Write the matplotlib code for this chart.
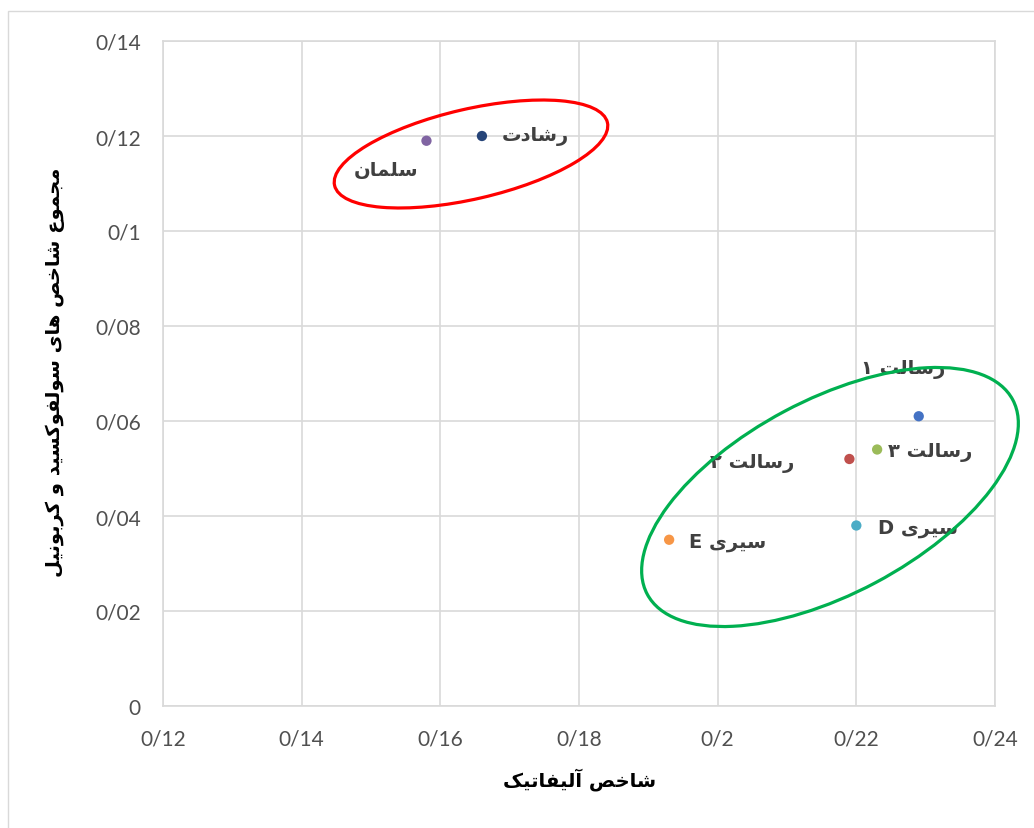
import matplotlib
matplotlib.use("Agg")
import matplotlib.pyplot as plt
from matplotlib.patches import Ellipse, Rectangle

# داده ها
names = ["رشادت", "سلمان", "رسالت ۱", "رسالت ۲", "رسالت ۳", "سیری D", "سیری E"]
x_vals = [0.166, 0.158, 0.229, 0.219, 0.223, 0.220, 0.193]
y_vals = [0.120, 0.119, 0.061, 0.052, 0.054, 0.038, 0.035]
colors = ["#264478", "#8064A2", "#4472C4", "#C0504D", "#9BBB59", "#4BACC6", "#F79646"]
x_ticks = [0.12, 0.14, 0.16, 0.18, 0.20, 0.22, 0.24]
x_tick_labels = ["0/12", "0/14", "0/16", "0/18", "0/2", "0/22", "0/24"]
y_ticks = [0, 0.02, 0.04, 0.06, 0.08, 0.10, 0.12, 0.14]
y_tick_labels = ["0", "0/02", "0/04", "0/06", "0/08", "0/1", "0/12", "0/14"]
x_title = "شاخص آلیفاتیک"
y_title = "مجموع شاخص های سولفوکسید و کربونیل"

# label offsets (pixels) from each point
label_off = [(53, 0), (-40, -29), (-16, 48), (-97, -4), (53, -2), (62, -2), (58, -2)]

# contextual forms: isolated, final, initial, medial
FORMS = {
    'ا': ('\uFE8D', '\uFE8E', None, None),
    'آ': ('\uFE81', '\uFE82', None, None),
    'ب': ('\uFE8F', '\uFE90', '\uFE91', '\uFE92'),
    'ت': ('\uFE95', '\uFE96', '\uFE97', '\uFE98'),
    'ج': ('\uFE9D', '\uFE9E', '\uFE9F', '\uFEA0'),
    'خ': ('\uFEA5', '\uFEA6', '\uFEA7', '\uFEA8'),
    'د': ('\uFEA9', '\uFEAA', None, None),
    'ر': ('\uFEAD', '\uFEAE', None, None),
    'س': ('\uFEB1', '\uFEB2', '\uFEB3', '\uFEB4'),
    'ش': ('\uFEB5', '\uFEB6', '\uFEB7', '\uFEB8'),
    'ص': ('\uFEB9', '\uFEBA', '\uFEBB', '\uFEBC'),
    'ع': ('\uFEC9', '\uFECA', '\uFECB', '\uFECC'),
    'ف': ('\uFED1', '\uFED2', '\uFED3', '\uFED4'),
    'ل': ('\uFEDD', '\uFEDE', '\uFEDF', '\uFEE0'),
    'م': ('\uFEE1', '\uFEE2', '\uFEE3', '\uFEE4'),
    'ن': ('\uFEE5', '\uFEE6', '\uFEE7', '\uFEE8'),
    'ه': ('\uFEE9', '\uFEEA', '\uFEEB', '\uFEEC'),
    'و': ('\uFEED', '\uFEEE', None, None),
    'ک': ('\uFB8E', '\uFB8F', '\uFB90', '\uFB91'),
    'ی': ('\uFBFC', '\uFBFD', '\uFBFE', '\uFBFF'),
}


def fa(text):
    out = []
    for i, ch in enumerate(text):
        if ch not in FORMS:
            out.append(ch)
            continue
        iso, fin, ini, med = FORMS[ch]
        prev = text[i - 1] if i > 0 else ''
        nxt = text[i + 1] if i + 1 < len(text) else ''
        jp = prev in FORMS and FORMS[prev][2] is not None
        jn = nxt in FORMS and ini is not None
        if jp and jn:
            out.append(med)
        elif jp:
            out.append(fin)
        elif jn:
            out.append(ini)
        else:
            out.append(iso)
    return ''.join(reversed(out))


plt.rcParams['font.family'] = ['DejaVu Sans']
W, H = 1034, 829
fig = plt.figure(figsize=(W / 100, H / 100), dpi=100)
ax = fig.add_axes([163 / W, 1 - 707 / H, (995 - 163) / W, (707 - 42) / H])

ax.scatter(x_vals, y_vals, s=55, c=colors, zorder=3, linewidths=0)
for n, x, y, off in zip(names, x_vals, y_vals, label_off):
    ax.annotate(fa(n), (x, y), xytext=off, textcoords='offset pixels',
                ha='center', va='center', fontsize=14, fontweight='bold',
                color='#404040', zorder=4)

ax.set_xlim(0.12, 0.24)
ax.set_ylim(0, 0.14)
ax.set_xticks(x_ticks)
ax.set_xticklabels(x_tick_labels)
ax.set_yticks(y_ticks)
ax.set_yticklabels(y_tick_labels)
for lab in ax.get_xticklabels() + ax.get_yticklabels():
    lab.set_family(['Lato', 'DejaVu Sans'])
ax.tick_params(length=0, labelsize=15, labelcolor='#505050')
ax.tick_params(axis='x', pad=16)
ax.tick_params(axis='y', pad=16)
ax.grid(color='#D9D9D9', linewidth=1.2)
for s in ax.spines.values():
    s.set_color('#D9D9D9')
    s.set_linewidth(1.2)
ax.set_axisbelow(True)

fig.text(580 / W, 1 - 780 / H, fa(x_title), ha='center', va='center',
         fontsize=14, fontweight='bold', color='black')
fig.text(55 / W, 1 - 372 / H, fa(y_title), ha='center', va='center',
         rotation=90, fontsize=14, fontweight='bold', color='black')

# ellipses drawn in pixel space (inches) so they keep their shape
tr = fig.dpi_scale_trans
fig.patches.append(Ellipse((471 / 100, (H - 155) / 100), 2 * 140 / 100, 2 * 45 / 100,
                           angle=13, fill=False, edgecolor='#FF0000', linewidth=2.3,
                           transform=tr, figure=fig))
fig.patches.append(Ellipse((830 / 100, (H - 498) / 100), 2 * 207 / 100, 2 * 97 / 100,
                           angle=28, fill=False, edgecolor='#00B050', linewidth=2.3,
                           transform=tr, figure=fig))
fig.patches.append(Rectangle((8 / 100, -0.2), (W + 50) / 100, (H - 12) / 100 + 0.2,
                             fill=False, edgecolor='#D9D9D9', linewidth=1,
                             transform=tr, figure=fig))

fig.savefig("out.png", dpi=100)
